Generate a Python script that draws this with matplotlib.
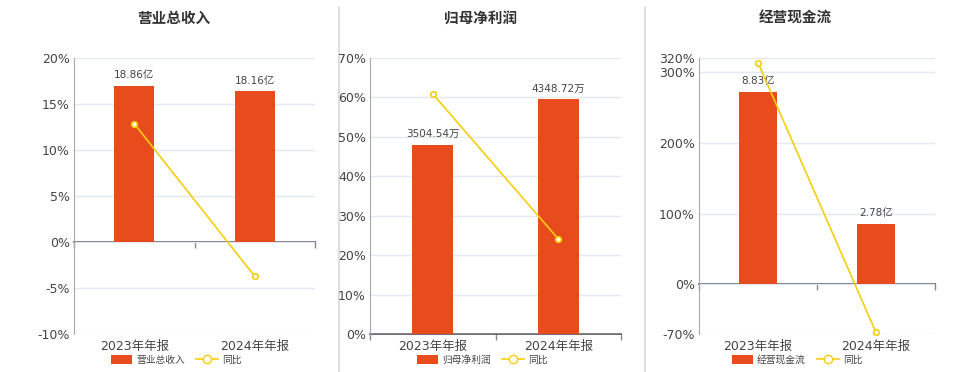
import matplotlib.pyplot as plt
from matplotlib.lines import Line2D
from matplotlib.patches import Patch

plt.rcParams['font.family'] = ['DejaVu Sans', 'Noto Sans CJK SC']

years = ["2023年年报", "2024年年报"]

titles = ["营业总收入", "归母净利润", "经营现金流"]
bar_vals = [[18.86, 18.16], [3504.54, 4348.72], [8.83, 2.78]]
bar_labels = [["18.86亿", "18.16亿"], ["3504.54万", "4348.72万"], ["8.83亿", "2.78亿"]]
yoy = [[12.86, -3.73], [60.9, 24.1], [313.4, -67.8]]

yticks = [[-10, -5, 0, 5, 10, 15, 20],
          [0, 10, 20, 30, 40, 50, 60, 70],
          [-70, 0, 100, 200, 300, 320]]
# bar axis max (in bar units) that lines up with the top percent tick
bar_top = [22.19, 5114, 10.37]

bar_color = "#E84C1D"
line_color = "#F5CE10"
text_color = "#444444"
grid_color = "#E4E8F4"

# axes boxes in pixels: left, right, top, bottom
boxes = [(74, 315, 58, 334), (370, 621, 58, 334), (699, 935, 58, 334)]
title_x = [174, 481, 795]
legend_x = [176, 482, 797]

W, H = 960, 372
fig = plt.figure(figsize=(9.6, 3.72), dpi=100)

# panel separators
for x in [339, 645]:
    fig.add_artist(Line2D([x / W, x / W], [0, 1 - 8 / H], color='#DDDDDD', linewidth=1.5, zorder=-1))

for i in range(3):
    l, r, t, b = boxes[i]
    ax = fig.add_axes([l / W, 1 - b / H, (r - l) / W, (b - t) / H])
    ymin, ymax = yticks[i][0], yticks[i][-1]
    ax.set_ylim(ymin, ymax)
    ax.set_xlim(-0.5, 1.5)
    ax.set_yticks(yticks[i])
    ax.set_yticklabels([f"{v}%" for v in yticks[i]])
    ax.grid(axis='y', color=grid_color, linewidth=1)
    ax.set_axisbelow(True)
    ax.tick_params(axis='y', length=0, pad=3, labelsize=9, labelcolor=text_color)
    ax.set_xticks([0, 1])
    ax.set_xticklabels(years)
    ax.tick_params(axis='x', length=0, pad=4, labelsize=9, labelcolor=text_color)
    for s in ['top', 'right', 'bottom']:
        ax.spines[s].set_visible(False)
    ax.spines['left'].set_color('#A8A8B0')

    # zero line with category boundary ticks
    zloc = (0 - ymin) / (ymax - ymin)
    sec = ax.secondary_xaxis(zloc)
    sec.set_xticks([-0.5, 0.5, 1.5])
    sec.set_xticklabels([])
    sec.tick_params(length=4, color='#888888', width=1)
    sec.spines['bottom'].set_color('#5F5F6A')
    sec.spines['bottom'].set_linewidth(1.3)

    # bars
    axb = ax.twinx()
    axb.set_ylim(ymin / ymax * bar_top[i], bar_top[i])
    axb.axis('off')
    bars = axb.bar([0, 1], bar_vals[i], width=0.33, color=bar_color)
    for rect, lab in zip(bars, bar_labels[i]):
        axb.annotate(lab, (rect.get_x() + rect.get_width() / 2, rect.get_height()),
                     xytext=(0, 4), textcoords='offset points', ha='center', va='bottom',
                     fontsize=7.5, color=text_color)

    # yoy line
    axl = ax.twinx()
    axl.set_ylim(ymin, ymax)
    axl.axis('off')
    axl.plot([0, 1], yoy[i], color=line_color, linewidth=1.2, marker='o', markersize=4,
             markerfacecolor='white', markeredgecolor=line_color, markeredgewidth=1.2,
             clip_on=False)

    fig.text(title_x[i] / W, 1 - 18 / H, titles[i], ha='center', va='center',
             fontsize=10.5, fontweight='bold', color='#333333')

    handles = [Patch(facecolor=bar_color, edgecolor='none'),
               Line2D([0], [0], color=line_color, linewidth=1.2, marker='o', markersize=6,
                      markerfacecolor='white', markeredgecolor=line_color)]
    fig.legend(handles, [titles[i], "同比"], loc='center', bbox_to_anchor=(legend_x[i] / W, 1 - 360 / H),
               ncol=2, frameon=False, fontsize=7, handlelength=2.2, handleheight=1.0,
               columnspacing=1.2, handletextpad=0.4, labelcolor=text_color, borderpad=0)

fig.savefig("out.png", dpi=100)
